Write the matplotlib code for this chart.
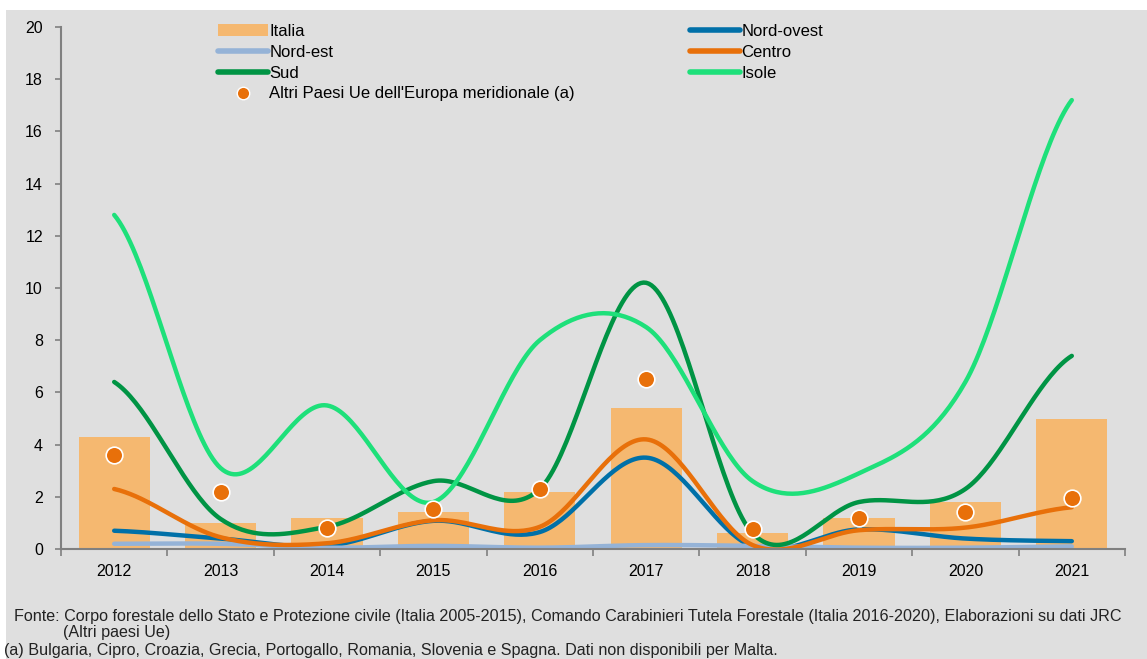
import numpy as np
import matplotlib
matplotlib.use("Agg")
import matplotlib.pyplot as plt
from matplotlib.patches import Patch
from matplotlib.lines import Line2D

years = [2012, 2013, 2014, 2015, 2016, 2017, 2018, 2019, 2020, 2021]

italia = [4.3, 1.0, 1.2, 1.4, 2.2, 5.4, 0.6, 1.2, 1.8, 5.0]
nord_ovest = [0.7, 0.4, 0.12, 1.08, 0.65, 3.5, 0.1, 0.75, 0.4, 0.3]
nord_est = [0.2, 0.2, 0.05, 0.12, 0.05, 0.15, 0.12, 0.05, 0.05, 0.1]
centro = [2.3, 0.45, 0.22, 1.1, 0.85, 4.2, 0.15, 0.72, 0.82, 1.6]
sud = [6.4, 1.15, 0.85, 2.6, 2.3, 10.2, 0.6, 1.8, 2.3, 7.4]
isole = [12.8, 3.1, 5.5, 1.8, 8.0, 8.5, 2.6, 2.9, 6.4, 17.2]
altri_ue = [3.6, 2.2, 0.8, 1.55, 2.3, 6.5, 0.75, 1.2, 1.4, 1.95]

note_fonte = ("Fonte: Corpo forestale dello Stato e Protezione civile (Italia 2005-2015), "
              "Comando Carabinieri Tutela Forestale (Italia 2016-2020), Elaborazioni su dati JRC")
note_fonte2 = "(Altri paesi Ue)"
note_a = "(a) Bulgaria, Cipro, Croazia, Grecia, Portogallo, Romania, Slovenia e Spagna. Dati non disponibili per Malta."

BG = "#dfdfdf"
C_ITALIA = "#f5b870"
C_NO = "#0070a8"
C_NE = "#95b3d7"
C_CENTRO = "#e8700a"
C_SUD = "#009444"
C_ISOLE = "#1ee07a"


def smooth(xs, ys, n=40):
    # catmull-rom, simile alle linee smussate di Excel
    xs = np.asarray(xs, float)
    ys = np.asarray(ys, float)
    m = np.zeros_like(ys)
    m[1:-1] = (ys[2:] - ys[:-2]) / 2
    m[0] = (ys[1] - ys[0]) / 2
    m[-1] = (ys[-1] - ys[-2]) / 2
    out_x, out_y = [], []
    for i in range(len(xs) - 1):
        t = np.linspace(0, 1, n, endpoint=False)
        h00 = 2 * t**3 - 3 * t**2 + 1
        h10 = t**3 - 2 * t**2 + t
        h01 = -2 * t**3 + 3 * t**2
        h11 = t**3 - t**2
        out_x.extend(xs[i] + t * (xs[i + 1] - xs[i]))
        out_y.extend(h00 * ys[i] + h10 * m[i] + h01 * ys[i + 1] + h11 * m[i + 1])
    out_x.append(xs[-1])
    out_y.append(ys[-1])
    return np.array(out_x), np.array(out_y)


plt.rcParams['font.family'] = ['Liberation Sans', 'DejaVu Sans']

fig = plt.figure(figsize=(11.47, 6.59), dpi=100)
fig.patch.set_facecolor("white")
fig.patches.append(plt.Rectangle((6 / 1147, 0), 1, 1 - 10 / 659, transform=fig.transFigure,
                                 facecolor=BG, edgecolor="none", zorder=-10))

ax = fig.add_axes([61 / 1147, 1 - 549 / 659, (1125 - 61) / 1147, (549 - 27) / 659])
ax.set_facecolor(BG)

ax.bar(years, italia, width=0.67, color=C_ITALIA, zorder=1)

series = [
    (nord_ovest, C_NO),
    (nord_est, C_NE),
    (centro, C_CENTRO),
    (sud, C_SUD),
    (isole, C_ISOLE),
]
for vals, col in series:
    sx, sy = smooth(years, vals)
    ax.plot(sx, sy, color=col, lw=3.2, solid_capstyle="round", zorder=2)

ax.plot(years, altri_ue, "o", color=C_CENTRO, markersize=12, markeredgecolor="white",
        markeredgewidth=1.2, zorder=3)

ax.set_xlim(2011.5, 2021.5)
ax.set_ylim(0, 20)
ax.set_yticks(range(0, 21, 2))
ax.set_xticks(years)
ax.set_xticks(np.arange(2011.5, 2022, 1), minor=True)
ax.tick_params(axis="x", which="major", length=0, pad=11, labelsize=11.5)
ax.tick_params(axis="x", which="minor", length=5, color="#808080", width=1.2, direction="out")
ax.tick_params(axis="y", length=4, color="#808080", width=1.2, labelsize=11.5, pad=9)
for s in ["top", "right"]:
    ax.spines[s].set_visible(False)
for s in ["left", "bottom"]:
    ax.spines[s].set_color("#808080")
    ax.spines[s].set_linewidth(1.5)

h_italia = Patch(facecolor=C_ITALIA, edgecolor="none")
h_no = Line2D([], [], color=C_NO, lw=4, solid_capstyle="round")
h_ne = Line2D([], [], color=C_NE, lw=4, solid_capstyle="round")
h_centro = Line2D([], [], color=C_CENTRO, lw=4, solid_capstyle="round")
h_sud = Line2D([], [], color=C_SUD, lw=4, solid_capstyle="round")
h_isole = Line2D([], [], color=C_ISOLE, lw=4, solid_capstyle="round")
h_altri = Line2D([], [], ls="none", marker="o", color=C_CENTRO, markersize=9,
                 markeredgecolor="white", markeredgewidth=1)

handles = [h_italia, h_ne, h_sud, h_altri, h_no, h_centro, h_isole]
labels = ["Italia", "Nord-est", "Sud", "Altri Paesi Ue dell'Europa meridionale (a)",
          "Nord-ovest", "Centro", "Isole"]
leg = ax.legend(handles, labels, ncol=2, loc="upper left", bbox_to_anchor=(0.1476, 1.006),
                frameon=False, fontsize=12, handlelength=3.0, handletextpad=0.08,
                labelspacing=0.35, columnspacing=6.9, borderpad=0, borderaxespad=0)

foot_font = ["Liberation Sans Narrow", "Liberation Sans", "DejaVu Sans"]
fig.text(14 / 1147, 1 - 617 / 659, note_fonte, fontsize=11.6, va="center",
         family=foot_font, color="#222222")
fig.text(63 / 1147, 1 - 632 / 659, note_fonte2, fontsize=11.6, va="center",
         family=foot_font, color="#222222")
fig.text(4 / 1147, 1 - 650 / 659, note_a, fontsize=11.6, va="center",
         family=foot_font, color="#222222")

fig.savefig("out.png", dpi=100, facecolor=fig.get_facecolor())
